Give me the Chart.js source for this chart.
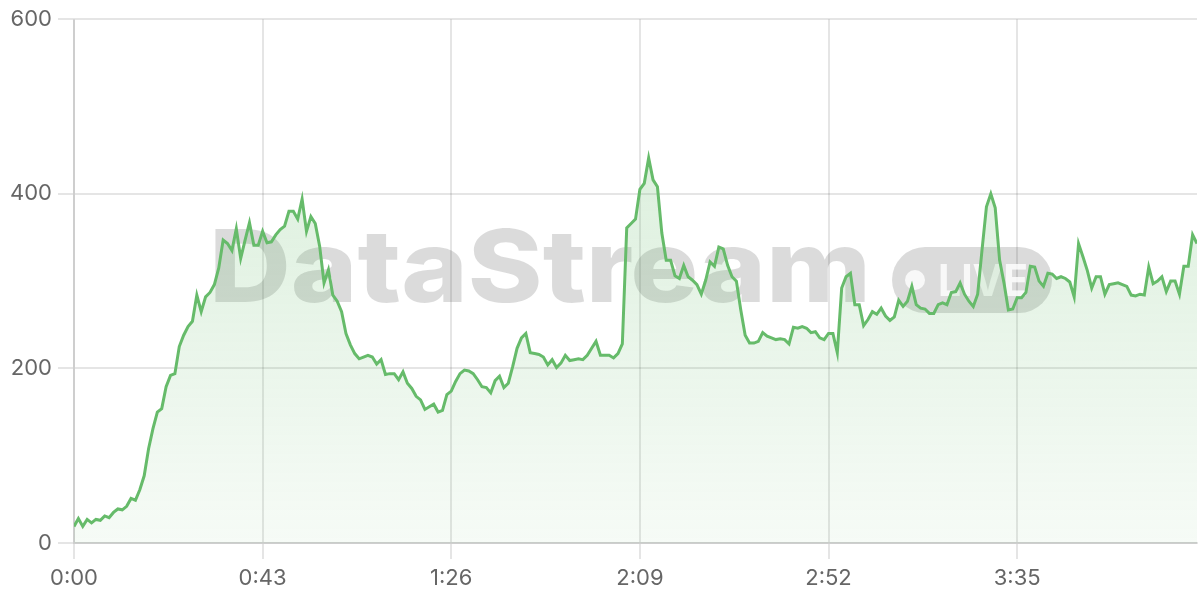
<!DOCTYPE html>
<html>
<head>
<meta charset="utf-8">
<script src="https://cdn.jsdelivr.net/npm/chart.js@4.4.1/dist/chart.umd.min.js"></script>
<style>
  html, body { margin: 0; padding: 0; background: #ffffff; }
  .chart-wrap { width: 1200px; height: 600px; position: relative; }
</style>
</head>
<body>
<div class="chart-wrap"><canvas id="chart"></canvas></div>
<script>
// viewers per second (one sample per second)
const viewers = [
  19, 28, 19, 27, 23, 27, 26, 31, 29, 35,
  39, 38, 42, 51, 49, 61, 77, 108, 131, 150,
  154, 179, 192, 194, 225, 238, 248, 254, 284, 265,
  282, 287, 296, 315, 347, 343, 335, 360, 326, 347,
  367, 341, 341, 357, 344, 345, 353, 359, 363, 380,
  380, 371, 394, 357, 374, 366, 340, 298, 313, 284,
  277, 265, 240, 227, 217, 211, 213, 215, 213, 205,
  210, 193, 194, 194, 187, 196, 183, 177, 168, 164,
  153, 156, 159, 150, 152, 170, 174, 185, 194, 198,
  197, 194, 187, 179, 178, 172, 186, 191, 178, 183,
  202, 223, 235, 240, 218, 217, 216, 213, 204, 210,
  201, 206, 215, 209, 210, 211, 210, 215, 223, 231,
  215, 215, 215, 212, 217, 228, 361, 366, 371, 405,
  412, 441, 416, 408, 355, 324, 324, 306, 303, 318,
  305, 301, 296, 285, 301, 322, 317, 339, 337, 318,
  305, 300, 267, 238, 229, 229, 231, 241, 237, 235,
  233, 234, 233, 228, 247, 246, 248, 246, 241, 242,
  235, 233, 240, 240, 218, 292, 305, 309, 273, 273,
  249, 256, 265, 262, 269, 260, 255, 259, 278, 271,
  277, 294, 273, 269, 268, 263, 263, 273, 275, 273,
  287, 288, 298, 285, 277, 271, 285, 336, 385, 400,
  384, 324, 298, 267, 268, 281, 281, 287, 317, 316,
  300, 294, 309, 308, 303, 305, 303, 299, 282, 343,
  328, 312, 292, 305, 305, 285, 296, 297, 298, 296,
  294, 284, 283, 285, 284, 316, 297, 300, 305, 288,
  300, 300, 285, 317, 317, 353, 343
];

// elapsed seconds for each sample
const seconds = viewers.map((_, i) => i);

// axis ticks
const xTickStep = 43;
const yTicks = [0, 200, 400, 600];

const green = '102, 187, 106';

function formatTime(sec) {
  const m = Math.floor(sec / 60);
  const s = sec % 60;
  return m + ':' + String(s).padStart(2, '0');
}

// Faint "DataStream LIVE" brand mark behind the line
const watermarkPlugin = {
  id: 'watermark',
  beforeDatasetsDraw(chart) {
    const c = chart.ctx;
    c.save();

    // word mark
    c.fillStyle = 'rgba(0, 0, 0, 0.14)';
    c.font = '800 100px Inter, sans-serif';
    c.textBaseline = 'alphabetic';
    const word = 'DataStream';
    const ww = c.measureText(word).width;
    c.save();
    c.translate(209, 302);
    c.scale(662 / ww, 1);
    c.fillText(word, 0, 0);
    c.restore();

    // pill
    c.beginPath();
    c.roundRect(892, 247, 160, 66, 33);
    c.fill();

    // dot + LIVE
    c.fillStyle = 'rgba(255, 255, 255, 0.8)';
    c.beginPath();
    c.arc(915, 280, 10, 0, Math.PI * 2);
    c.fill();
    c.font = '700 44px Inter, sans-serif';
    const lw = c.measureText('LIVE').width;
    c.save();
    c.translate(938, 296);
    c.scale(90 / lw, 1);
    c.fillText('LIVE', 0, 0);
    c.restore();

    c.restore();
  }
};

document.addEventListener('DOMContentLoaded', () => {
  const canvas = document.getElementById('chart');

  new Chart(canvas, {
    type: 'line',
    data: {
      labels: seconds,
      datasets: [{
        label: 'Viewers',
        data: viewers,
        borderColor: `rgb(${green})`,
        borderWidth: 3,
        pointRadius: 0,
        pointHoverRadius: 0,
        tension: 0,
        fill: 'origin',
        backgroundColor: (context) => {
          const { chart } = context;
          const area = chart.chartArea;
          if (!area) return `rgba(${green}, 0.15)`;
          const g = chart.ctx.createLinearGradient(0, area.top, 0, area.bottom);
          g.addColorStop(0, `rgba(${green}, 0.28)`);
          g.addColorStop(1, `rgba(${green}, 0.06)`);
          return g;
        }
      }]
    },
    options: {
      responsive: true,
      maintainAspectRatio: false,
      animation: false,
      layout: { padding: { top: 19, right: 3, bottom: 8, left: 6 } },
      plugins: {
        legend: { display: false },
        tooltip: { enabled: false }
      },
      scales: {
        x: {
          type: 'linear',
          min: 0,
          max: seconds[seconds.length - 1],
          grid: { color: 'rgba(0, 0, 0, 0.1)', lineWidth: 2, tickLength: 16 },
          border: { color: 'rgba(0, 0, 0, 0.1)', width: 2 },
          ticks: {
            stepSize: xTickStep,
            includeBounds: false,
            autoSkip: false,
            maxRotation: 0,
            padding: 6,
            color: '#666666',
            font: { family: 'Inter, sans-serif', size: 22 },
            callback: (value) => formatTime(value)
          },
          afterFit: (scale) => { scale.height = 49; }
        },
        y: {
          min: yTicks[0],
          max: yTicks[yTicks.length - 1],
          afterBuildTicks: (scale) => { scale.ticks = yTicks.map(v => ({ value: v })); },
          grid: { color: 'rgba(0, 0, 0, 0.1)', lineWidth: 2, tickLength: 16 },
          border: { color: 'rgba(0, 0, 0, 0.1)', width: 2 },
          ticks: {
            padding: 6,
            color: '#666666',
            font: { family: 'Inter, sans-serif', size: 22 }
          },
          afterFit: (scale) => { scale.width = 68; }
        }
      }
    },
    plugins: [watermarkPlugin]
  });
});
</script>
</body>
</html>
